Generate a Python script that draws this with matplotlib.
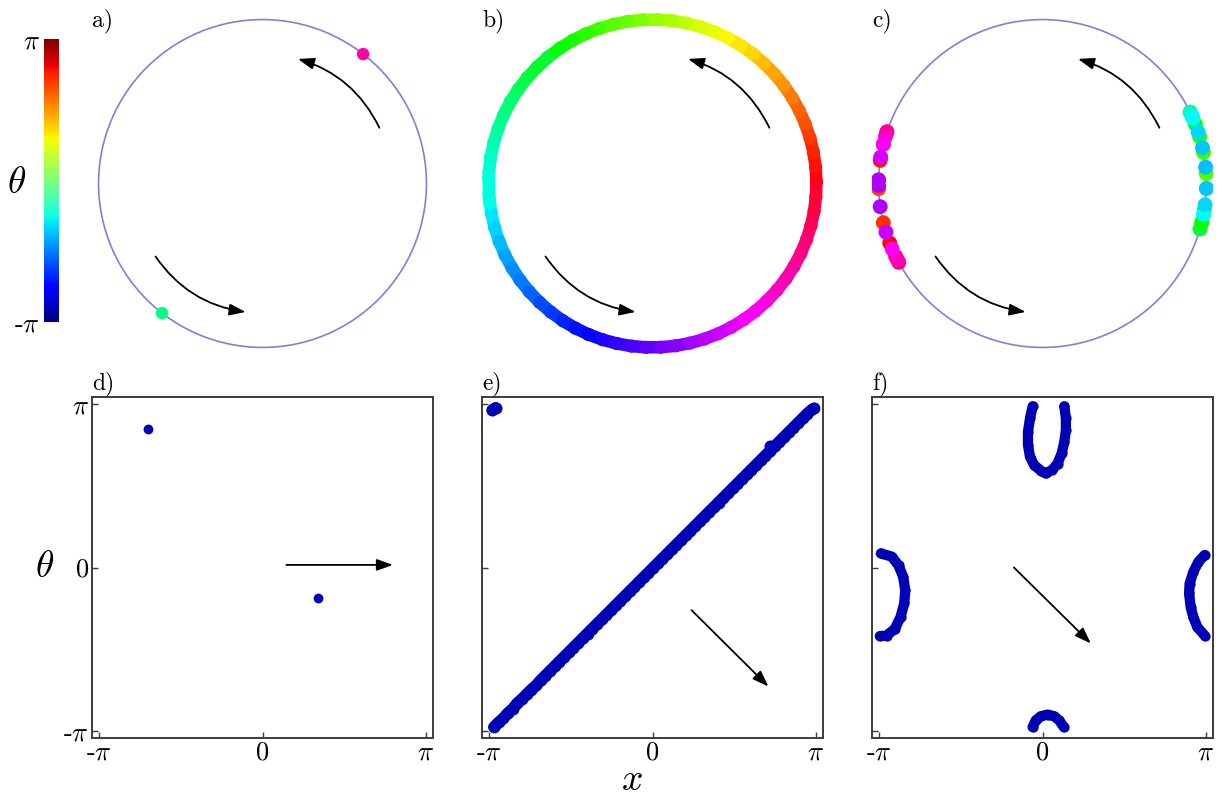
import numpy as np
import matplotlib
matplotlib.use('Agg')
import matplotlib.pyplot as plt
from matplotlib.collections import LineCollection
from matplotlib.colors import Normalize
from matplotlib.cm import ScalarMappable

plt.rcParams['font.family'] = 'cmr10'
plt.rcParams['mathtext.fontset'] = 'cm'
plt.rcParams['axes.unicode_minus'] = False

##------------------------------------------------------##
# a) / d) two swarmalators
pair_theta = [-0.59, 2.67]
pair_x_ring = [0.91, -2.23]    # angles read off the ring in a)
pair_x_plane = [1.06, -2.20]   # positions read off d)

# b) / e) sync state, theta follows x
sync_x = [-3.05, -2.96, -2.87, -2.78, -2.69, -2.60, -2.51, -2.42, -2.33, -2.24,
          -2.15, -2.06, -1.97, -1.88, -1.79, -1.70, -1.61, -1.52, -1.43, -1.34,
          -1.25, -1.16, -1.07, -0.98, -0.89, -0.80, -0.71, -0.62, -0.53, -0.44,
          -0.35, -0.26, -0.17, -0.08, 0.01, 0.10, 0.19, 0.28, 0.37, 0.46,
          0.55, 0.64, 0.73, 0.82, 0.91, 1.00, 1.09, 1.18, 1.27, 1.36,
          1.45, 1.54, 1.63, 1.72, 1.81, 1.90, 1.99, 2.08, 2.17, 2.26,
          2.35, 2.44, 2.53, 2.62, 2.71, 2.80, 2.89, 2.98, 3.07, 3.11]
sync_theta = [-3.07, -2.98, -2.90, -2.80, -2.72, -2.61, -2.53, -2.44, -2.35, -2.27,
              -2.17, -2.08, -1.99, -1.90, -1.81, -1.72, -1.63, -1.54, -1.45, -1.36,
              -1.27, -1.18, -1.09, -1.00, -0.91, -0.82, -0.73, -0.64, -0.55, -0.46,
              -0.37, -0.28, -0.19, -0.10, -0.01, 0.08, 0.17, 0.26, 0.35, 0.44,
              0.53, 0.62, 0.71, 0.80, 0.89, 0.98, 1.07, 1.16, 1.25, 1.34,
              1.43, 1.52, 1.61, 1.70, 1.79, 1.88, 1.97, 2.06, 2.15, 2.24,
              2.33, 2.42, 2.51, 2.60, 2.69, 2.78, 2.87, 2.96, 3.04, 3.06]
sync_extra_x = [-3.08, -3.02, 2.27]
sync_extra_theta = [3.03, 3.07, 2.34]

# c) / f) two clusters, each a closed loop on the torus
u_x = [-0.19, -0.24, -0.28, -0.28, -0.24, -0.16, -0.03, 0.06, 0.19, 0.29, 0.37, 0.42, 0.45, 0.45, 0.42]
u_theta = [3.10, 2.87, 2.61, 2.36, 2.13, 1.97, 1.86, 1.81, 1.88, 2.00, 2.20, 2.42, 2.65, 2.87, 3.10]
cap_x = [-0.19, -0.13, -0.03, 0.10, 0.22, 0.32, 0.41]
cap_theta = [-3.07, -2.94, -2.86, -2.83, -2.86, -2.94, -3.07]
left_x = [-3.11, -2.90, -2.77, -2.68, -2.64, -2.66, -2.73, -2.84, -3.00, -3.13]
left_theta = [0.27, 0.21, 0.04, -0.18, -0.44, -0.69, -0.95, -1.18, -1.31, -1.32]
right_x = [3.12, 3.00, 2.90, 2.83, 2.82, 2.85, 2.90, 2.98, 3.12]
right_theta = [0.24, 0.11, -0.09, -0.31, -0.50, -0.76, -0.95, -1.15, -1.31]

# arrows (rotation direction / drift)
ring_arrow_r = 0.79
ring_arrow_from = [25.5, -145.7]   # degrees
ring_arrow_to = [74.1, -97.5]
plane_arrows = {'d': ((0.46, 0.05), (2.51, 0.05)),
                'e': ((0.75, -0.82), (2.23, -2.29)),
                'f': ((-0.55, 0.0), (0.93, -1.46))}

W, H = 1221, 798
blue = '#0000b4'
ring_col = '#8080dc'
spine_col = '#3c3c3c'
lim = 3.28
rlim = 1.04
pi = np.pi


def px_rect(l, t, w, h):
    return [l / W, 1 - (t + h) / H, w / W, h / H]


def hue(theta):
    return plt.cm.hsv((np.asarray(theta) % (2 * pi)) / (2 * pi))


def ring(x):
    x = np.asarray(x)
    return np.cos(x), np.sin(x)


fig = plt.figure(figsize=(W / 100, H / 100), dpi=100)

lefts = [92, 482, 872]
top_axes = [fig.add_axes(px_rect(l, 13, 341, 341)) for l in lefts]
bot_axes = [fig.add_axes(px_rect(l, 397, 341, 341)) for l in lefts]

arrow_kw = dict(arrowstyle='-|>,head_length=0.75,head_width=0.27', color='k',
                lw=1.3, shrinkA=0, shrinkB=0, mutation_scale=13)

for ax in top_axes:
    ax.set_xlim(-rlim, rlim)
    ax.set_ylim(-rlim, rlim)
    ax.set_aspect('equal')
    ax.axis('off')
    ax.add_patch(plt.Circle((0, 0), 1, fill=False, ec=ring_col, lw=1.2, zorder=1))
    for a0, a1 in zip(ring_arrow_from, ring_arrow_to):
        t0, t1 = np.radians(a0), np.radians(a1)
        ax.annotate('', xy=(ring_arrow_r * np.cos(t1), ring_arrow_r * np.sin(t1)),
                    xytext=(ring_arrow_r * np.cos(t0), ring_arrow_r * np.sin(t0)),
                    arrowprops=dict(connectionstyle='arc3,rad=0.22', **arrow_kw))

# a)
cx, cy = ring(pair_x_ring)
top_axes[0].scatter(cx, cy, s=80, c=hue(pair_theta), lw=0, zorder=3)

# b)
bx, by = ring(sync_x)
pts = np.column_stack([bx, by])
pts = np.vstack([pts, pts[:1]])
segs = np.stack([pts[:-1], pts[1:]], axis=1)
lc = LineCollection(segs, colors=hue(sync_theta), linewidths=9, capstyle='round', zorder=2)
top_axes[1].add_collection(lc)
top_axes[1].scatter(bx, by, s=90, c=hue(sync_theta), lw=0, zorder=3)
ex, ey = ring(sync_extra_x)
top_axes[1].scatter(ex, ey, s=90, c=hue(sync_extra_theta), lw=0, zorder=3)

# c)
clu_x = u_x + cap_x + left_x + right_x
clu_theta = u_theta + cap_theta + left_theta + right_theta
cx, cy = ring(clu_x)
top_axes[2].scatter(cx, cy, s=115, c=hue(clu_theta), lw=0, zorder=3)

# bottom row
for i, ax in enumerate(bot_axes):
    ax.set_xlim(-lim, lim)
    ax.set_ylim(-lim, lim)
    for sp in ax.spines.values():
        sp.set_color(spine_col)
        sp.set_linewidth(1.4)
    ax.set_xticks([-pi, 0, pi])
    ax.set_xticklabels([r'-$\pi$', '0', r'$\pi$'])
    ax.set_yticks([-pi, 0, pi])
    if i == 0:
        ax.set_yticklabels([r'-$\pi$', '0', r'$\pi$'])
    else:
        ax.set_yticklabels([])
    ax.tick_params(direction='in', length=4, width=1, color=spine_col,
                   labelsize=19, pad=2, top=False, right=False)

d_ax, e_ax, f_ax = bot_axes
d_ax.scatter(pair_x_plane, pair_theta, s=50, color=blue, lw=0, zorder=3)

e_ax.plot(sync_x, sync_theta, '-o', color=blue, lw=8.5, ms=8.5, mew=0,
          solid_capstyle='round', zorder=3)
e_ax.scatter(sync_extra_x, sync_extra_theta, s=75, color=blue, lw=0, zorder=3)
e_ax.plot(sync_extra_x[:2], sync_extra_theta[:2], color=blue, lw=8.5,
          solid_capstyle='round', zorder=3)

for xs, ts in [(u_x, u_theta), (cap_x, cap_theta), (left_x, left_theta), (right_x, right_theta)]:
    f_ax.plot(xs, ts, '-o', color=blue, lw=7.4, ms=7.4, mew=0,
              solid_capstyle='round', solid_joinstyle='round', zorder=3)

for key, ax in zip(['d', 'e', 'f'], bot_axes):
    tail, tip = plane_arrows[key]
    ax.annotate('', xy=tip, xytext=tail, arrowprops=arrow_kw)

# panel letters
for lab, l in zip(['a)', 'b)', 'c)'], lefts):
    fig.text(l / W, 1 - 26 / H, lab, fontsize=17, va='baseline', ha='left')
for lab, l in zip(['d)', 'e)', 'f)'], lefts):
    fig.text(l / W, 1 - 389 / H, lab, fontsize=17, va='baseline', ha='left')

# axis labels
fig.text(45 / W, 1 - 567 / H, r'$\theta$', fontsize=27, ha='center', va='center')
fig.text(632 / W, 1 - 780 / H, r'$x$', fontsize=27, ha='center', va='center')

# colorbar
cax = fig.add_axes(px_rect(44, 39, 15, 283))
sm = ScalarMappable(norm=Normalize(-pi, pi), cmap='jet')
cb = fig.colorbar(sm, cax=cax)
cb.outline.set_visible(False)
cb.set_ticks([-pi, pi])
cb.set_ticklabels([r'-$\pi$', r'$\pi$'])
cax.yaxis.set_ticks_position('left')
cax.tick_params(length=0, labelsize=19, pad=3)
fig.text(17 / W, 1 - 183 / H, r'$\theta$', fontsize=27, ha='center', va='center')

fig.savefig('out.png', dpi=100)
